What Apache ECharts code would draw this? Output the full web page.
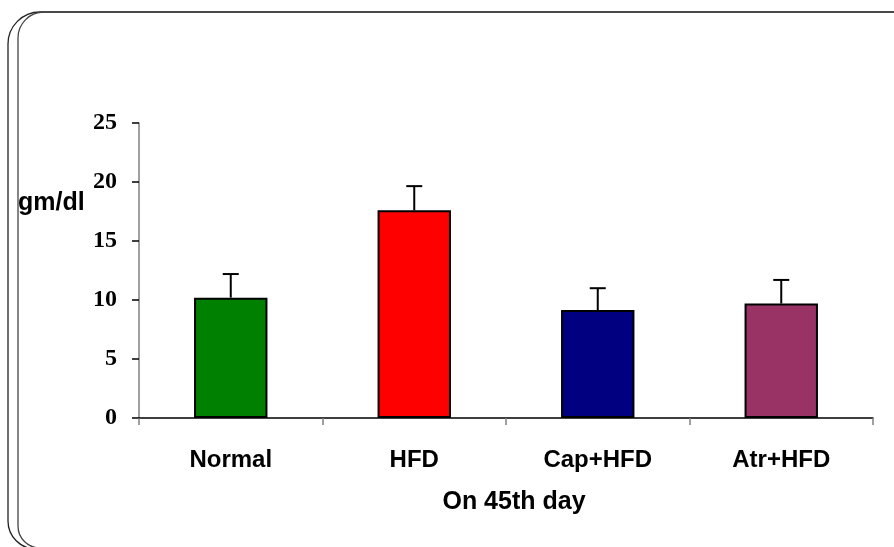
<!DOCTYPE html>
<html>
<head>
<meta charset="utf-8">
<script src="https://cdn.jsdelivr.net/npm/echarts@6/dist/echarts.min.js"></script>
<style>html,body{margin:0;padding:0;background:#fff;}#c{width:894px;height:547px;}</style>
</head>
<body>
<div id="c"></div>
<script>
var categories = ['Normal', 'HFD', 'Cap+HFD', 'Atr+HFD'];
var means = [10.2, 17.6, 9.15, 9.7];
var errors = [2.0, 2.05, 1.85, 2.0];
var barColors = ['#008000', '#FF0000', '#000080', '#993366'];
var yTicks = [0, 5, 10, 15, 20, 25];

var chart = echarts.init(document.getElementById('c'), null, {renderer: 'canvas'});
var errData = means.map(function (m, i) { return [i, m, m + errors[i]]; });

chart.setOption({
  animation: false,
  backgroundColor: '#fff',
  grid: {left: 139, right: 21, top: 123, bottom: 129},
  graphic: [
    {type: 'rect', shape: {x: 8, y: 12, width: 900, height: 537, r: [32, 14, 14, 28]},
     style: {fill: 'none', stroke: '#222', lineWidth: 1.3}, silent: true},
    {type: 'rect', shape: {x: 18, y: 12, width: 890, height: 536, r: [26, 14, 14, 22]},
     style: {fill: 'none', stroke: '#444', lineWidth: 1.3}, silent: true},
    {type: 'text', left: 18, top: 191,
     style: {text: 'gm/dl', font: 'bold 25px "Liberation Sans", Arial, sans-serif', fill: '#000'}}
  ],
  xAxis: {
    type: 'category',
    data: categories,
    name: 'On 45th day',
    nameLocation: 'middle',
    nameGap: 72,
    nameTextStyle: {fontFamily: '"Liberation Sans", Arial, sans-serif', fontWeight: 'bold', fontSize: 25, color: '#000', padding: [0, 0, 0, 16]},
    axisLine: {lineStyle: {color: '#000', width: 1.5}},
    axisTick: {show: true, length: 7, lineStyle: {color: '#808080', width: 1.5}},
    axisLabel: {margin: 30, fontFamily: '"Liberation Sans", Arial, sans-serif', fontWeight: 'bold', fontSize: 24, color: '#000'}
  },
  yAxis: {
    type: 'value',
    min: 0, max: 25, interval: 5,
    axisLine: {show: true, lineStyle: {color: '#808080', width: 1.5}},
    axisTick: {show: true, length: 7, lineStyle: {color: '#000', width: 1.5}},
    axisLabel: {margin: 22, fontFamily: '"Liberation Serif", "Times New Roman", serif', fontWeight: 'bold', fontSize: 24, color: '#000',
      formatter: function (v) { return yTicks.indexOf(v) >= 0 ? String(v) : ''; }},
    splitLine: {show: false}
  },
  series: [
    {
      type: 'bar',
      barWidth: '40%',
      data: means.map(function (v, i) {
        return {value: v, itemStyle: {color: barColors[i], borderColor: '#000', borderWidth: 2}};
      }),
      z: 2
    },
    {
      type: 'custom',
      z: 3,
      data: errData,
      renderItem: function (params, api) {
        var x = api.value(0);
        var lo = api.coord([x, api.value(1)]);
        var hi = api.coord([x, api.value(2)]);
        var cap = 8;
        var st = {stroke: '#000', lineWidth: 2};
        return {
          type: 'group',
          children: [
            {type: 'line', shape: {x1: lo[0], y1: lo[1], x2: hi[0], y2: hi[1]}, style: st},
            {type: 'line', shape: {x1: hi[0] - cap, y1: hi[1], x2: hi[0] + cap, y2: hi[1]}, style: st}
          ]
        };
      }
    }
  ]
});
</script>
</body>
</html>
